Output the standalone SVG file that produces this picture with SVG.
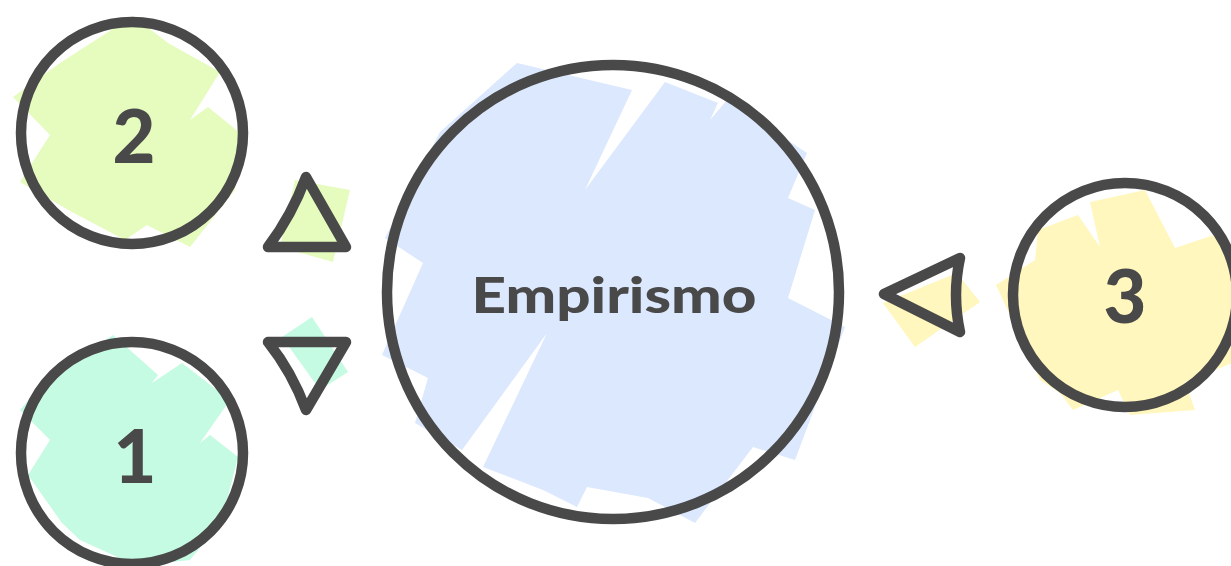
<svg xmlns="http://www.w3.org/2000/svg" width="1231" height="566" viewBox="0 0 1231 566">
  <style>
    .stroke { fill: none; stroke: #494949; stroke-width: 10.5; stroke-linejoin: round; stroke-linecap: round; }
    .lbl { font-family: "Lato", "Liberation Sans", sans-serif; font-weight: 900; fill: #494949; text-anchor: middle; }
    .num { font-size: 74px; }
    .big { font-size: 50px; }
  </style>
  <rect width="1231" height="566" fill="#ffffff"/>

  <g id="connectors">
    <g id="arrow-2">
      <polygon points="295,180 350,190 333,262 280,247" fill="#e6fcbe"/>
      <path class="stroke" d="M306,177 L346,247 L268,247 Q292,215 306,177 Z"/>
    </g>
    <g id="arrow-1">
      <polygon points="282,337 312,317 348,372 320,390" fill="#c6fbe3"/>
      <path class="stroke" d="M268,342 L346,342 L306,410 Q292,372 268,342 Z"/>
    </g>
    <g id="arrow-3">
      <polygon points="957,273 980,302 915,347 883,303" fill="#fff7bd"/>
      <path class="stroke" d="M884,294 L960,258 Q952,295 960,332 Z"/>
    </g>
  </g>

  <g id="node-empirismo">
    <polygon fill="#dbe8fd" points="385,238 440,132 517,63 632,90 585,190 665,82 718,103 710,120 727,100 807,153 788,198 815,210 788,298 845,327 795,460 753,447 695,523 648,498 587,487 577,507 543,490 483,467 547,333 462,450 415,423 428,378 382,355 423,263"/>
    <ellipse class="stroke" cx="613" cy="292" rx="226" ry="227"/>
    <text class="lbl big" x="614" y="313" textLength="285" lengthAdjust="spacingAndGlyphs">Empirismo</text>
  </g>

  <g id="node-2">
    <polygon fill="#e6fcbe" points="13,97 60,63 133,16 168,43 220,72 190,120 208,107 240,133 235,190 190,247 147,225 125,240 72,212 20,182 50,135"/>
    <circle class="stroke" cx="132" cy="133" r="111"/>
    <text class="lbl num" x="134" y="163">2</text>
  </g>

  <g id="node-1">
    <polygon fill="#c6fbe3" points="20,410 45,380 113,335 158,375 152,383 182,363 230,400 200,443 210,435 238,457 222,520 190,560 137,566 80,540 62,523 28,475 50,440"/>
    <circle class="stroke" cx="132" cy="453" r="111"/>
    <text class="lbl num" x="135" y="483">1</text>
  </g>

  <g id="node-3">
    <polygon fill="#fff7bd" points="996,285 1035,260 1038,230 1078,215 1100,247 1090,202 1145,190 1175,248 1223,232 1240,260 1240,360 1185,382 1195,410 1130,415 1118,390 1073,410 1060,393 1040,380"/>
    <circle class="stroke" cx="1125" cy="295" r="112"/>
    <text class="lbl num" x="1125" y="323">3</text>
  </g>
</svg>
